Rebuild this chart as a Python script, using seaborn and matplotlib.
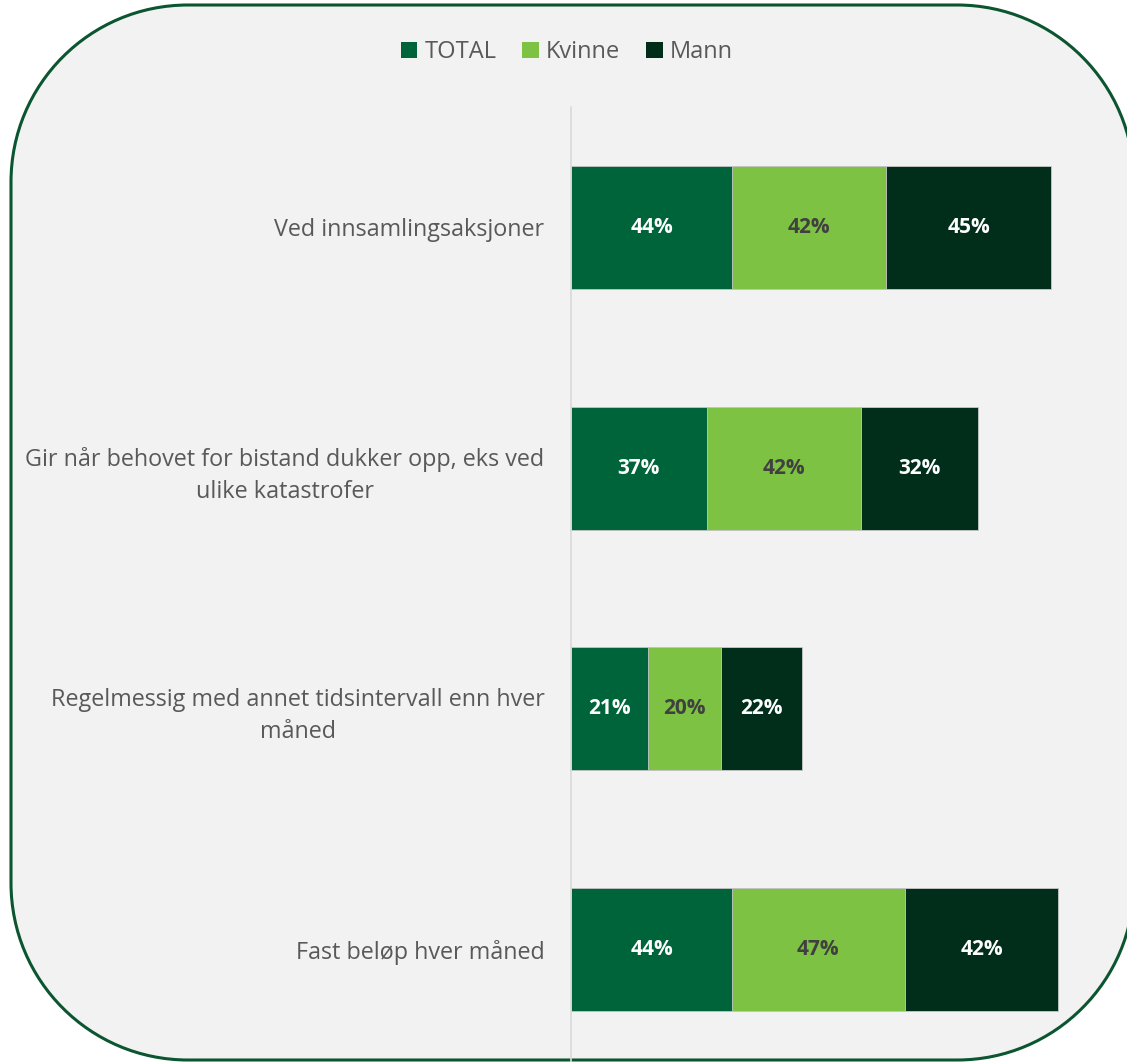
import pandas as pd
import matplotlib.pyplot as plt
import seaborn as sns
from matplotlib.patches import PathPatch, Patch
from matplotlib.path import Path

# data
categories = ["Ved innsamlingsaksjoner",
              "Gir når behovet for bistand dukker opp, eks ved\nulike katastrofer",
              "Regelmessig med annet tidsintervall enn hver\nmåned",
              "Fast beløp hver måned"]
total = [44, 37, 21, 44]
kvinne = [42, 42, 20, 47]
mann = [45, 32, 22, 42]
series = ["TOTAL", "Kvinne", "Mann"]
colors = ["#00643A", "#7DC243", "#002E1A"]
label_colors = ["white", "#404040", "white"]

sns.set_style("white")
plt.rcParams['font.family'] = ['Open Sans', 'DejaVu Sans']

df = pd.DataFrame({"cat": categories, "TOTAL": total, "Kvinne": kvinne, "Mann": mann})
df["c1"] = df["TOTAL"]
df["c2"] = df["TOTAL"] + df["Kvinne"]
df["c3"] = df["c2"] + df["Mann"]

fig = plt.figure(figsize=(11.27, 10.62), dpi=100)
fig.patch.set_facecolor("white")


def rounded_rect(x0, y0, x1, y1, r):
    # rectangle with circular corners (cubic bezier arcs)
    k = 0.5523 * r
    verts = [(x0 + r, y0), (x1 - r, y0),
             (x1 - r + k, y0), (x1, y0 + r - k), (x1, y0 + r),
             (x1, y1 - r),
             (x1, y1 - r + k), (x1 - r + k, y1), (x1 - r, y1),
             (x0 + r, y1),
             (x0 + r - k, y1), (x0, y1 - r + k), (x0, y1 - r),
             (x0, y0 + r),
             (x0, y0 + r - k), (x0 + r - k, y0), (x0 + r, y0),
             (x0 + r, y0)]
    codes = [Path.MOVETO, Path.LINETO,
             Path.CURVE4, Path.CURVE4, Path.CURVE4,
             Path.LINETO,
             Path.CURVE4, Path.CURVE4, Path.CURVE4,
             Path.LINETO,
             Path.CURVE4, Path.CURVE4, Path.CURVE4,
             Path.LINETO,
             Path.CURVE4, Path.CURVE4, Path.CURVE4,
             Path.CLOSEPOLY]
    return Path(verts, codes)


# rounded background panel
box = PathPatch(rounded_rect(0.11, 0.02, 11.34, 10.57, 1.77),
                transform=fig.dpi_scale_trans, facecolor="#F2F2F2",
                edgecolor="#0B5530", linewidth=2.2, zorder=-5)
fig.patches.append(box)

ax = fig.add_axes([571 / 1127, 1 - 1070 / 1062, 556 / 1127, (1070 - 107) / 1062])
ax.set_facecolor("none")
ax.set_zorder(2)

# stacked by overlaying cumulative bars (largest first)
for col, c in zip(["c3", "c2", "c1"], colors[::-1]):
    sns.barplot(data=df, x=col, y="cat", color=c, orient="h", width=0.51,
                edgecolor="#C8C8C8", linewidth=0.6, saturation=1, ax=ax)

# value labels at the middle of every segment
for i in range(len(categories)):
    left = 0
    for s, tc in zip(series, label_colors):
        v = df.loc[i, s]
        ax.text(left + v / 2, i, f"{v}%", ha="center", va="center",
                color=tc, fontsize=15, fontweight="bold")
        left += v

ax.set_xlim(0, 556 / 3.665)
ax.set_ylim(3.5, -0.5)
ax.set_xlabel("")
ax.set_ylabel("")
ax.set_xticks([])
ax.tick_params(axis="y", length=0, pad=19, labelsize=16.8, labelcolor="#595959")
for lab in ax.get_yticklabels():
    lab.set_multialignment("center")
    lab.set_linespacing(1.45)
for sp in ["top", "right", "bottom"]:
    ax.spines[sp].set_visible(False)
ax.spines["left"].set_color("#D9D9D9")
ax.spines["left"].set_linewidth(1.2)

handles = [Patch(facecolor=c, edgecolor="none") for c in colors]
leg = fig.legend(handles, series, loc="center", bbox_to_anchor=(0.503, 0.951),
                 ncol=3, frameon=False, fontsize=17, handlelength=0.7,
                 handleheight=0.7, handletextpad=0.3, columnspacing=1.1)
for t in leg.get_texts():
    t.set_color("#595959")

fig.savefig("out.png", dpi=100)
